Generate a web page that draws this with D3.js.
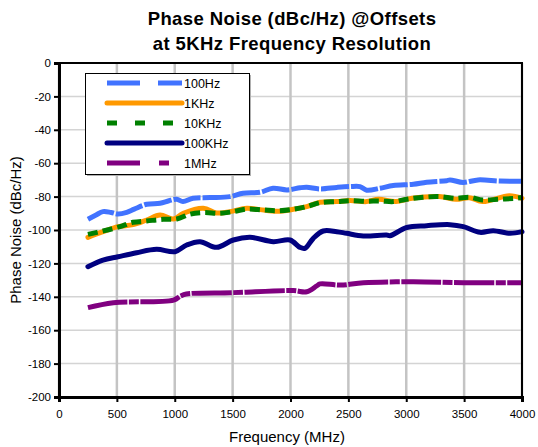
<!DOCTYPE html>
<html><head><meta charset="utf-8">
<script src="https://cdn.jsdelivr.net/npm/d3@7"></script>
<style>body{margin:0;background:#fff}svg{display:block}text{font-family:"Liberation Sans",Arial,Helvetica,sans-serif}</style>
</head><body>
<svg id="c" width="538" height="447"></svg>
<script>
const titleLines = ["Phase Noise (dBc/Hz) @Offsets", "at 5KHz Frequency Resolution"];
const xTitle = "Frequency (MHz)";
const yTitle = "Phase Noise (dBc/Hz)";
const xTicks = [0,500,1000,1500,2000,2500,3000,3500,4000];
const yTicks = [0,-20,-40,-60,-80,-100,-120,-140,-160,-180,-200];
const seriesNames = ["100Hz","1KHz","10KHz","100KHz","1MHz"];

const freq100Hz = [250,320,380,450,510,585,650,758,873,950,1017,1071,1158,1305,1477,1590,1737,1849,1970,2082,2140,2255,2400,2514,2600,2658,2773,2888,3061,3177,3349,3378,3493,3620,3810,4000];
const val100Hz  = [-93.6,-91,-89,-89.5,-90.4,-89.4,-87.5,-84.6,-84,-82.5,-81.6,-83,-81,-80.6,-80,-78,-77.4,-75,-76,-74.7,-74.4,-75.4,-74.5,-74,-74,-76.2,-75,-73.4,-72.6,-71.4,-70.5,-70,-71.5,-70,-70.7,-70.8];

const freq1KHz = [250,380,510,640,758,873,987,1074,1247,1362,1477,1622,1737,1881,2024,2140,2255,2399,2514,2658,2760,2910,3050,3285,3430,3545,3660,3890,4000];
const val1KHz  = [-104.4,-101,-98,-96.8,-94,-91,-93.4,-90,-87,-89.8,-89,-87,-87.8,-88.8,-87.6,-86,-83.4,-83,-82.4,-83,-81.6,-83,-81,-80,-81.6,-80.7,-83,-79.5,-81];

const freq10KHz = [250,380,527,640,758,900,1017,1130,1247,1391,1506,1622,1765,1895,2024,2140,2255,2399,2514,2658,2773,2888,3003,3147,3285,3430,3545,3660,3800,3946,4000];
const val10KHz  = [-102.6,-100.6,-98,-95.4,-94.6,-93.6,-93.4,-90.6,-89.6,-90,-89,-87.5,-88,-88.5,-87.6,-86,-83.6,-83,-82.4,-82.8,-82.6,-83,-81.6,-80.4,-80,-81,-80.4,-82,-81.6,-81,-80.6];

const freq100KHz = [250,380,510,670,843,1002,1103,1218,1362,1506,1650,1852,1996,2082,2125,2197,2283,2399,2485,2629,2830,2860,3004,3177,3378,3493,3637,3752,3896,4000];
const val100KHz  = [-122,-118,-116,-113.6,-111.6,-113,-109,-107,-110.4,-106,-104.4,-107,-106,-110.4,-111,-105,-100.6,-101,-102,-103.6,-103,-103.4,-98.5,-97.4,-96.8,-98,-101.4,-100.4,-102,-101];

const freq1MHz = [250,470,990,1050,1100,1506,2024,2140,2226,2255,2430,2630,3061,3493,4000];
const val1MHz  = [-146.5,-143.5,-142,-139.5,-138.3,-137.5,-136.3,-137,-133.5,-132.3,-133,-131.6,-131,-131.6,-131.6];

const series = [
  {name:seriesNames[0], f:freq100Hz, v:val100Hz, color:"#4173FF", dash:"28,2", legDash:"33,18"},
  {name:seriesNames[1], f:freq1KHz, v:val1KHz, color:"#FF9900", dash:null, legDash:null},
  {name:seriesNames[2], f:freq10KHz, v:val10KHz, color:"#008000", dash:"10,5", legDash:"10,18"},
  {name:seriesNames[3], f:freq100KHz, v:val100KHz, color:"#000080", dash:null, legDash:null},
  {name:seriesNames[4], f:freq1MHz, v:val1MHz, color:"#800080", dash:"40,1.5,10,1.5", legDash:"33,19,10,40"}
];

const svg = d3.select("#c");
const L=59, R=522, T=63, B=397;
const x = d3.scaleLinear().domain([0,4000]).range([L,R]);
const y = d3.scaleLinear().domain([-200,0]).range([B,T]);

// gridlines
svg.append("g").selectAll("line").data(yTicks).join("line")
  .attr("x1",L).attr("x2",R).attr("y1",d=>y(d)).attr("y2",d=>y(d))
  .attr("stroke","#d4d4d4").attr("stroke-width",1.5);
svg.append("g").selectAll("line").data(xTicks).join("line")
  .attr("x1",d=>x(d)).attr("x2",d=>x(d)).attr("y1",T).attr("y2",B)
  .attr("stroke","#c4c4c4").attr("stroke-width",2.5);

// lines
const line = d3.line().x(d=>x(d[0])).y(d=>y(d[1])).curve(d3.curveCatmullRom.alpha(0.5));
series.forEach(s=>{
  const pts = s.f.map((f,i)=>[f,s.v[i]]);
  svg.append("path").attr("d",line(pts)).attr("fill","none")
    .attr("stroke",s.color).attr("stroke-width",5)
    .attr("stroke-linecap", s.dash? "butt":"round").attr("stroke-linejoin","round")
    .attr("stroke-dasharray",s.dash);
});

// frame
svg.append("rect").attr("x",L).attr("y",T).attr("width",R-L).attr("height",B-T)
  .attr("fill","none").attr("stroke","#000").attr("stroke-width",2);

// axes
const fmt = d=>String(d);
const yAx = svg.append("g").attr("transform",`translate(${L},0)`)
  .call(d3.axisLeft(y).tickValues(yTicks).tickSize(5).tickPadding(3).tickFormat(fmt));
const xAx = svg.append("g").attr("transform",`translate(0,${B})`)
  .call(d3.axisBottom(x).tickValues(xTicks).tickSize(5).tickPadding(8).tickFormat(fmt));
[yAx,xAx].forEach(a=>{
  a.select(".domain").attr("stroke","#000").attr("stroke-width",3);
  a.selectAll(".tick line").attr("stroke","#000").attr("stroke-width",2);
  a.selectAll(".tick text").attr("font-size",11.5).attr("fill","#000")
   .attr("font-family",'"Liberation Sans",Arial,sans-serif');
});

// titles
const tt = svg.append("text").attr("x",292).attr("y",25).attr("text-anchor","middle")
  .attr("font-size",18.5).attr("font-weight","bold").attr("fill","#000").attr("letter-spacing",0.4);
titleLines.forEach((t,i)=>tt.append("tspan").attr("x",292).attr("dy",i?25:0).text(t));
svg.append("text").attr("x",287).attr("y",442).attr("text-anchor","middle")
  .attr("font-size",15).attr("fill","#000").text(xTitle);
svg.append("text").attr("transform","translate(21,230) rotate(-90)").attr("text-anchor","middle")
  .attr("font-size",15).attr("fill","#000").text(yTitle);

// legend
const lg = svg.append("g");
lg.append("rect").attr("x",87).attr("y",75).attr("width",164).attr("height",101).attr("fill","#b0b0b0");
lg.append("rect").attr("x",85.5).attr("y",73.5).attr("width",164).attr("height",101)
  .attr("fill","#fff").attr("stroke","#000").attr("stroke-width",1);
series.forEach((s,i)=>{
  const yy = 83 + i*20;
  lg.append("line").attr("x1",107).attr("x2",182).attr("y1",yy).attr("y2",yy)
    .attr("stroke",s.color).attr("stroke-width",5)
    .attr("stroke-linecap", s.legDash? "butt":"round")
    .attr("stroke-dasharray",s.legDash);
  lg.append("text").attr("x",184).attr("y",yy+4.5).attr("font-size",12.5).attr("fill","#000").text(s.name);
});
</script>
</body></html>
